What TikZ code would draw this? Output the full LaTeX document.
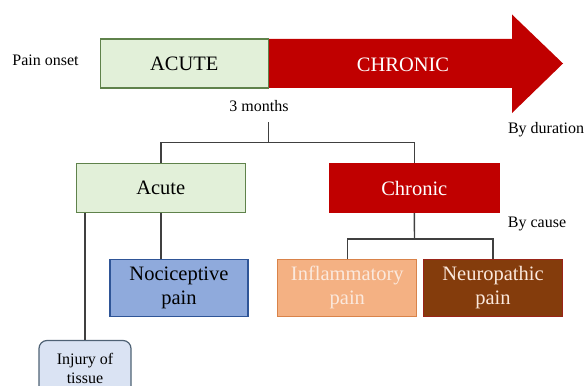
\documentclass[tikz,border=0pt]{standalone}
\usepackage{fontspec}
\setmainfont{Liberation Serif}
\newfontfamily\timesface{Liberation Serif}
\definecolor{greenfill}{HTML}{E2F0D9}
\definecolor{greenline}{HTML}{5F824B}
\definecolor{redfill}{HTML}{C00000}
\definecolor{bluefill}{HTML}{8FAADC}
\definecolor{blueline}{HTML}{2F5597}
\definecolor{orangefill}{HTML}{F4B183}
\definecolor{orangeline}{HTML}{D9834A}
\definecolor{brownfill}{HTML}{843C0C}
\definecolor{brownline}{HTML}{9A2418}
\definecolor{paleblue}{HTML}{DAE3F3}
\definecolor{paleline}{HTML}{4F6275}
\definecolor{linkgray}{HTML}{404040}
\definecolor{softwhite}{HTML}{FBE9DD}
\tikzset{
  box/.style={rectangle, inner sep=0pt, align=center, line width=1.2pt},
  big/.style={font=\timesface\fontsize{20.5}{24}\selectfont},
  small/.style={font=\timesface\fontsize{16}{19}\selectfont},
  link/.style={draw=linkgray, line width=1.4pt},
  label/.style={inner sep=0pt, anchor=base, small}
}
\begin{document}
\begin{tikzpicture}[x=1pt, y=-1pt]
\useasboundingbox (0,0) rectangle (585,385);
\clip (0,0) rectangle (585,385);

% duration arrow
\fill[redfill] (269,39) -- (512,39) -- (512,14.5) -- (563,63.5) -- (512,113) -- (512,88) -- (269,88) -- cycle;
\node[box, big, draw=greenline, fill=greenfill, minimum width=168pt, minimum height=49pt] (acutebar) at (184.3,63.5) {ACUTE};
\node[big, text=white, inner sep=0pt, anchor=base] (chronicbar) at (403,72) {CHRONIC};

% side labels
\node[label] (onset) at (45.5,66) {Pain onset};
\node[label] (months) at (259,111) {3 months};
\node[label] (duration) at (546,133) {By duration};
\node[label] (cause) at (537,227) {By cause};

% classification boxes
\node[box, big, draw=greenline, fill=greenfill, minimum width=169pt, minimum height=49pt] (acute) at (160.8,187.8) {Acute};
\node[box, big, draw=redfill, fill=redfill, text=white, minimum width=170pt, minimum height=49pt] (chronic) at (414.3,188) {Chronic};
\node[box, big, draw=blueline, fill=bluefill, minimum width=138pt, minimum height=57pt] (noci) at (179,287.8) {Nociceptive\\pain};
\node[box, big, draw=orangeline, fill=orangefill, text=softwhite, minimum width=139pt, minimum height=57pt] (infl) at (347.3,287.8) {Inflammatory\\pain};
\node[box, big, draw=brownline, fill=brownfill, text=softwhite, minimum width=139pt, minimum height=57pt] (neuro) at (493,287.8) {Neuropathic\\pain};
\node[box, small, draw=paleline, fill=paleblue, rounded corners=8pt, minimum width=92pt, minimum height=56pt] (injury) at (85,368.5) {Injury of\\tissue};

% connectors
\coordinate (split) at (268.5,142.7);
\coordinate (csplit) at (414.5,239);
\draw[link] (268.5,122) -- (split);
\draw[link] (acute.north) |- (split) -| (chronic.north);
\draw[link] (chronic.south) -- (csplit);
\draw[link] (infl.north) |- (csplit) -| (neuro.north);
\draw[link] (acute.south) -- (acute.south |- noci.north);
\draw[link] (injury.north |- acute.south) -- (injury.north);
\end{tikzpicture}
\end{document}
